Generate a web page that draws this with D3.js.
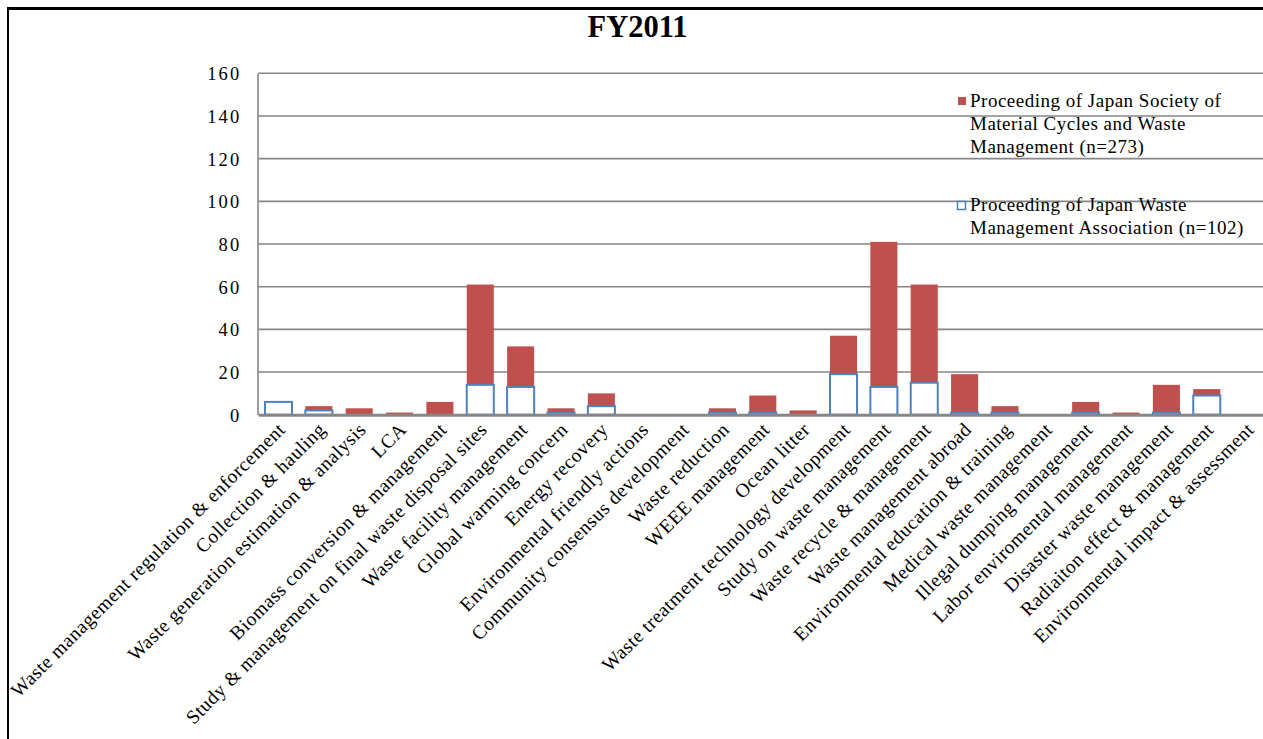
<!DOCTYPE html>
<html>
<head>
<meta charset="utf-8">
<script src="https://cdn.jsdelivr.net/npm/d3@7/dist/d3.min.js"></script>
<style>
  html, body { margin: 0; padding: 0; background: #fff; }
  svg { display: block; }
  text { font-family: "Liberation Serif", "Times New Roman", serif; fill: #000; }
</style>
</head>
<body>
<svg id="chart" width="1263" height="739"></svg>
<script>
// Research topics of conference papers, FY2011
const categories = [
  "Waste management regulation & enforcement",
  "Collection & hauling",
  "Waste generation estimation & analysis",
  "LCA",
  "Biomass conversion & management",
  "Study & management on final waste disposal sites",
  "Waste facility management",
  "Global warming concern",
  "Energy recovery",
  "Environmental friendly actions",
  "Community consensus development",
  "Waste reduction",
  "WEEE management",
  "Ocean litter",
  "Waste treatment technology development",
  "Study on waste management",
  "Waste recycle & management",
  "Waste management abroad",
  "Environmental education & training",
  "Medical waste management",
  "Illegal dumping management",
  "Labor enviromental management",
  "Disaster waste management",
  "Radiaiton effect & management",
  "Environmental impact & assessment"
];

// Proceeding of Japan Waste Management Association (n=102) – lower segment
const jwmaValues = [6, 2, 0, 0, 0, 14, 13, 1, 4, 0, 0, 1, 1, 0, 19, 13, 15, 1, 1, 0, 1, 0, 1, 9, 0];

// Proceeding of Japan Society of Material Cycles and Waste Management (n=273) – upper segment
const jsmcwmValues = [0, 2, 3, 1, 6, 47, 19, 2, 6, 0, 0, 2, 8, 2, 18, 68, 46, 18, 3, 0, 5, 1, 13, 3, 0];

const yTicks = [0, 20, 40, 60, 80, 100, 120, 140, 160];

const legendEntries = [
  { lines: ["Proceeding of Japan Society of", "Material Cycles and Waste", "Management (n=273)"], kind: "jsmcwm" },
  { lines: ["Proceeding of Japan Waste", "Management Association (n=102)"], kind: "jwma" }
];

const RED = "#c0504d";
const BLUE = "#4f81bd";
const GRID = "#868686";

const svg = d3.select("#chart");

// Outer frame (top and left edges)
svg.append("line").attr("x1", 8).attr("x2", 1263).attr("y1", 8.5).attr("y2", 8.5)
  .attr("stroke", "#000").attr("stroke-width", 3);
svg.append("line").attr("x1", 8).attr("x2", 8).attr("y1", 7).attr("y2", 739)
  .attr("stroke", "#000").attr("stroke-width", 2);

// Title
svg.append("text")
  .attr("x", 637.5).attr("y", 37)
  .attr("text-anchor", "middle")
  .attr("font-size", 30.5).attr("font-weight", "bold")
  .text("FY2011");

const plotLeft = 258.3, plotRight = 1267.3;
const x = d3.scaleBand().domain(categories).range([plotLeft, plotRight])
  .paddingInner(0.33).paddingOuter(0.165);
const y = d3.scaleLinear().domain([0, 160]).range([414.7, 73.3]);

// Horizontal gridlines
svg.append("g").selectAll("line")
  .data(yTicks.filter(t => t > 0))
  .join("line")
  .attr("x1", plotLeft).attr("x2", 1263)
  .attr("y1", d => y(d)).attr("y2", d => y(d))
  .attr("stroke", GRID).attr("stroke-width", 1.6);

// Y axis
const yAxis = svg.append("g")
  .attr("transform", `translate(${plotLeft - 0.8},0)`)
  .call(d3.axisLeft(y).tickValues(yTicks).tickSize(0).tickPadding(16));
yAxis.select(".domain").attr("stroke", GRID).attr("stroke-width", 1.6);
yAxis.selectAll("text")
  .attr("font-family", "Liberation Serif, serif")
  .attr("font-size", 18.5)
  .attr("letter-spacing", 2.2)
  .attr("dy", "0.35em");

// Stacked bars
const bars = svg.append("g");
categories.forEach((c, i) => {
  const b = jwmaValues[i], r = jsmcwmValues[i];
  if (r > 0) {
    bars.append("rect")
      .attr("x", x(c)).attr("width", x.bandwidth())
      .attr("y", y(b + r)).attr("height", y(b) - y(b + r))
      .attr("fill", RED);
  }
  if (b > 0) {
    bars.append("rect")
      .attr("x", x(c)).attr("width", x.bandwidth())
      .attr("y", y(b)).attr("height", y(0) - y(b))
      .attr("fill", "#fff").attr("stroke", BLUE).attr("stroke-width", 2);
  }
});

// X axis baseline and category labels
const xAxis = svg.append("g")
  .attr("transform", `translate(0,${y(0)})`)
  .call(d3.axisBottom(x).tickSize(0).tickPadding(0));
xAxis.select(".domain").attr("stroke", GRID).attr("stroke-width", 3);
xAxis.selectAll(".tick text")
  .attr("font-family", "Liberation Serif, serif")
  .attr("font-size", 19.5)
  .attr("letter-spacing", 0.5)
  .attr("text-anchor", "end")
  .attr("dy", 0)
  .attr("transform", "translate(8,16) rotate(-45)");

// Legend
const legend = svg.append("g");
const legendTops = [97, 201.5];
legendEntries.forEach((e, k) => {
  const top = legendTops[k];
  if (e.kind === "jsmcwm") {
    legend.append("rect").attr("x", 958).attr("y", top).attr("width", 8).attr("height", 8).attr("fill", RED);
  } else {
    legend.append("rect").attr("x", 957.5).attr("y", top).attr("width", 8).attr("height", 8)
      .attr("fill", "#fff").attr("stroke", BLUE).attr("stroke-width", 1.5);
  }
  e.lines.forEach((ln, j) => {
    legend.append("text")
      .attr("x", 970).attr("y", top + 9.5 + j * 23.4)
      .attr("font-size", 19)
      .attr("letter-spacing", 0.5)
      .text(ln);
  });
});
</script>
</body>
</html>
